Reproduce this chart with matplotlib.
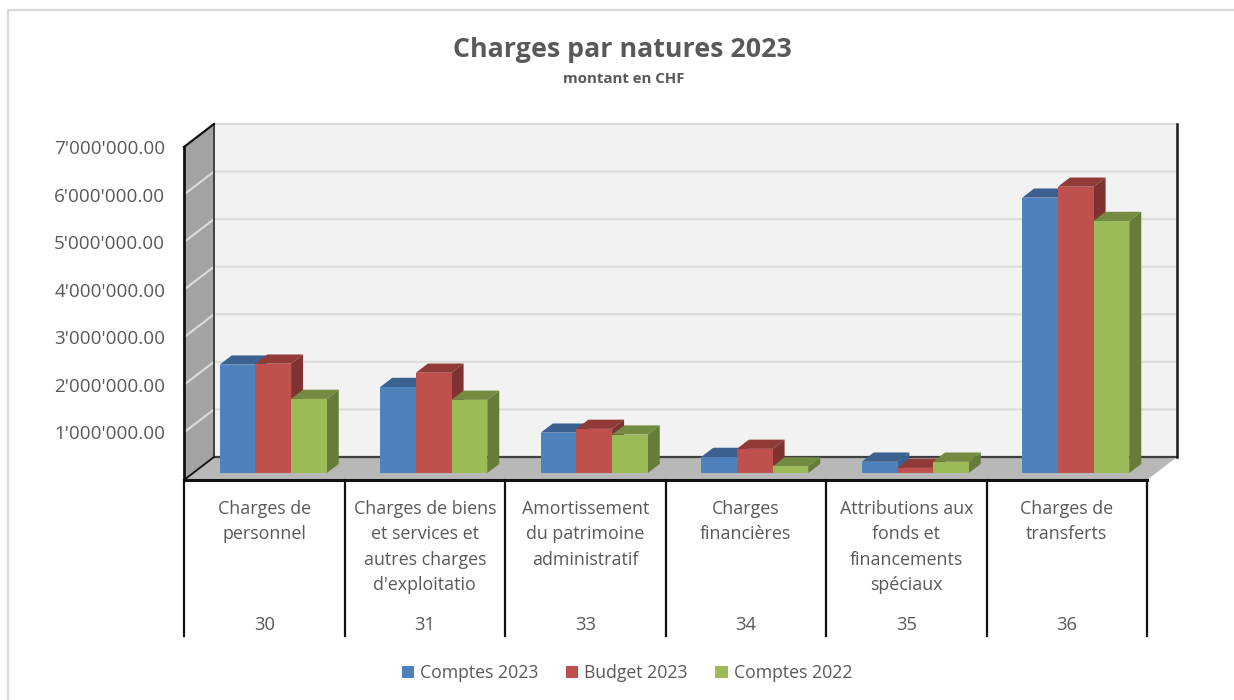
import matplotlib
matplotlib.use('Agg')
import matplotlib.pyplot as plt
from matplotlib.patches import Polygon, Rectangle, Patch

plt.rcParams['font.family'] = ['Open Sans', 'DejaVu Sans']

# values in CHF
comptes_2023 = [2280000, 1810000, 850000, 340000, 240000, 5790000]
budget_2023 = [2300000, 2110000, 930000, 510000, 110000, 6020000]
comptes_2022 = [1560000, 1540000, 810000, 140000, 240000, 5300000]
series_names = ['Comptes 2023', 'Budget 2023', 'Comptes 2022']
categories = ['Charges de\npersonnel',
              'Charges de biens\net services et\nautres charges\nd\'exploitatio',
              'Amortissement\ndu patrimoine\nadministratif',
              'Charges\nfinancières',
              'Attributions aux\nfonds et\nfinancements\nspéciaux',
              'Charges de\ntransferts']
codes = ['30', '31', '33', '34', '35', '36']
y_ticks = [1000000, 2000000, 3000000, 4000000, 5000000, 6000000, 7000000]
y_labels = ["1'000'000.00", "2'000'000.00", "3'000'000.00", "4'000'000.00",
            "5'000'000.00", "6'000'000.00", "7'000'000.00"]

face_colors = ['#4F81BD', '#C0504D', '#9BBB59']
top_colors = ['#3A618F', '#923A38', '#748C42']
side_colors = ['#3A618F', '#7F3331', '#667C3A']
TEXT = '#595959'

W, H = 1234, 700
fig = plt.figure(figsize=(W / 100, H / 100), dpi=100, facecolor='white')
# outer frame runs off the right and bottom of the picture
fig.add_artist(Rectangle((8 / W, -0.02), 1.02, 1 - 10 / H + 0.02, transform=fig.transFigure,
                         facecolor='white', edgecolor='#D9D9D9', linewidth=1.6, zorder=-1))

# front plane of the 3D box: x 184-1147, y 480-147 in pixels
ax = fig.add_axes([184 / W, 1 - 480 / H, 963 / W, 333 / H])
ax.set_xlim(0, 6)
ax.set_ylim(0, 7000000)
ax.patch.set_visible(False)
for s in ax.spines.values():
    s.set_visible(False)
ax.set_xticks([])
ax.set_yticks(y_ticks)
ax.set_yticklabels(y_labels, fontsize=13.6, color=TEXT)
ax.tick_params(axis='y', length=0, pad=13.5)

# depth of the box, in data units
depth_x = 30 * 6 / 963
depth_y = 23 * 7000000 / 333
ymax = 7000000

ax.add_patch(Polygon([(depth_x, depth_y), (6 + depth_x, depth_y), (6 + depth_x, ymax + depth_y), (depth_x, ymax + depth_y)],
                     facecolor='#F2F2F2', edgecolor='none', clip_on=False, zorder=1))
ax.add_patch(Polygon([(0, 0), (depth_x, depth_y), (6 + depth_x, depth_y), (6, 0)],
                     facecolor='#B8B8B8', edgecolor='none', clip_on=False, zorder=1))
ax.add_patch(Polygon([(0, 0), (depth_x, depth_y), (depth_x, ymax + depth_y), (0, ymax)],
                     facecolor='#A3A3A3', edgecolor='none', clip_on=False, zorder=1))

for t in y_ticks:
    ax.plot([0, depth_x, 6 + depth_x], [t, t + depth_y, t + depth_y], color='#DCDCDC', lw=1.5,
            clip_on=False, zorder=2, solid_joinstyle='miter')
ax.plot([depth_x, 6 + depth_x], [ymax + depth_y, ymax + depth_y], color='#DCDCDC', lw=1.5, clip_on=False, zorder=2)
ax.plot([depth_x, 6 + depth_x], [depth_y, depth_y], color='#404040', lw=1.6, clip_on=False, zorder=3)
ax.plot([depth_x, depth_x], [depth_y, ymax + depth_y], color='#404040', lw=1.4, clip_on=False, zorder=3)
ax.plot([6 + depth_x, 6 + depth_x], [depth_y, ymax + depth_y], color='#1A1A1A', lw=1.8, clip_on=False, zorder=3)
ax.plot([0, 0], [0, ymax], color='#111111', lw=2, clip_on=False, zorder=3)
ax.plot([0, depth_x], [ymax, ymax + depth_y], color='#111111', lw=1.6, clip_on=False, zorder=3)
ax.plot([0, depth_x], [0, depth_y], color='#111111', lw=1.3, clip_on=False, zorder=3)

# bars sit between 30% and 70% of the depth
front = 0.3
back = 0.7
bar_w = 107 / 3 * 6 / 963
dx = (back - front) * depth_x
dy = (back - front) * depth_y
base = front * depth_y
shift = front * depth_x

z = 5
for i in range(len(categories)):
    for j, values in enumerate([comptes_2023, budget_2023, comptes_2022]):
        x0 = i + 0.5 + (j - 1.5) * bar_w + shift
        v = values[i]
        ax.bar(x0, v, width=bar_w, bottom=base, align='edge', color=face_colors[j], zorder=z + 1)
        ax.add_patch(Polygon([(x0, base + v), (x0 + bar_w, base + v), (x0 + bar_w + dx, base + v + dy), (x0 + dx, base + v + dy)],
                             facecolor=top_colors[j], edgecolor='none', clip_on=False, zorder=z))
        ax.add_patch(Polygon([(x0 + bar_w, base), (x0 + bar_w + dx, base + dy), (x0 + bar_w + dx, base + v + dy), (x0 + bar_w, base + v)],
                             facecolor=side_colors[j], edgecolor='none', clip_on=False, zorder=z))
        z += 2

# category table under the chart
tab = fig.add_axes([184 / W, 1 - 636 / H, 963 / W, 156 / H])
tab.set_xlim(0, 6)
tab.set_ylim(156, 0)
tab.axis('off')
tab.plot([0, 6], [0, 0], color='#111111', lw=2.2, clip_on=False)
for i in range(7):
    tab.plot([i, i], [0, 156], color='#111111', lw=1.6, clip_on=False)
for i in range(len(categories)):
    tab.text(i + 0.5, 20, categories[i], ha='center', va='top', fontsize=12.9, color=TEXT, linespacing=1.53)
    tab.text(i + 0.5, 145, codes[i], ha='center', va='center', fontsize=13.2, color=TEXT)

fig.text(622 / W, 1 - 50 / H, 'Charges par natures 2023', ha='center', va='center',
         fontsize=19.3, fontweight='bold', color=TEXT)
fig.text(624 / W, 1 - 79 / H, 'montant en CHF', ha='center', va='center',
         fontsize=10.8, fontweight='bold', color=TEXT)

handles = [Patch(facecolor=c, label=n) for c, n in zip(face_colors, series_names)]
fig.legend(handles=handles, loc='center', bbox_to_anchor=(627 / W, 1 - 673 / H), ncol=3, frameon=False,
           fontsize=12.7, labelcolor=TEXT, handlelength=0.7, handleheight=0.7, handletextpad=0.35, columnspacing=1.55)

fig.savefig('out.png', dpi=100)
